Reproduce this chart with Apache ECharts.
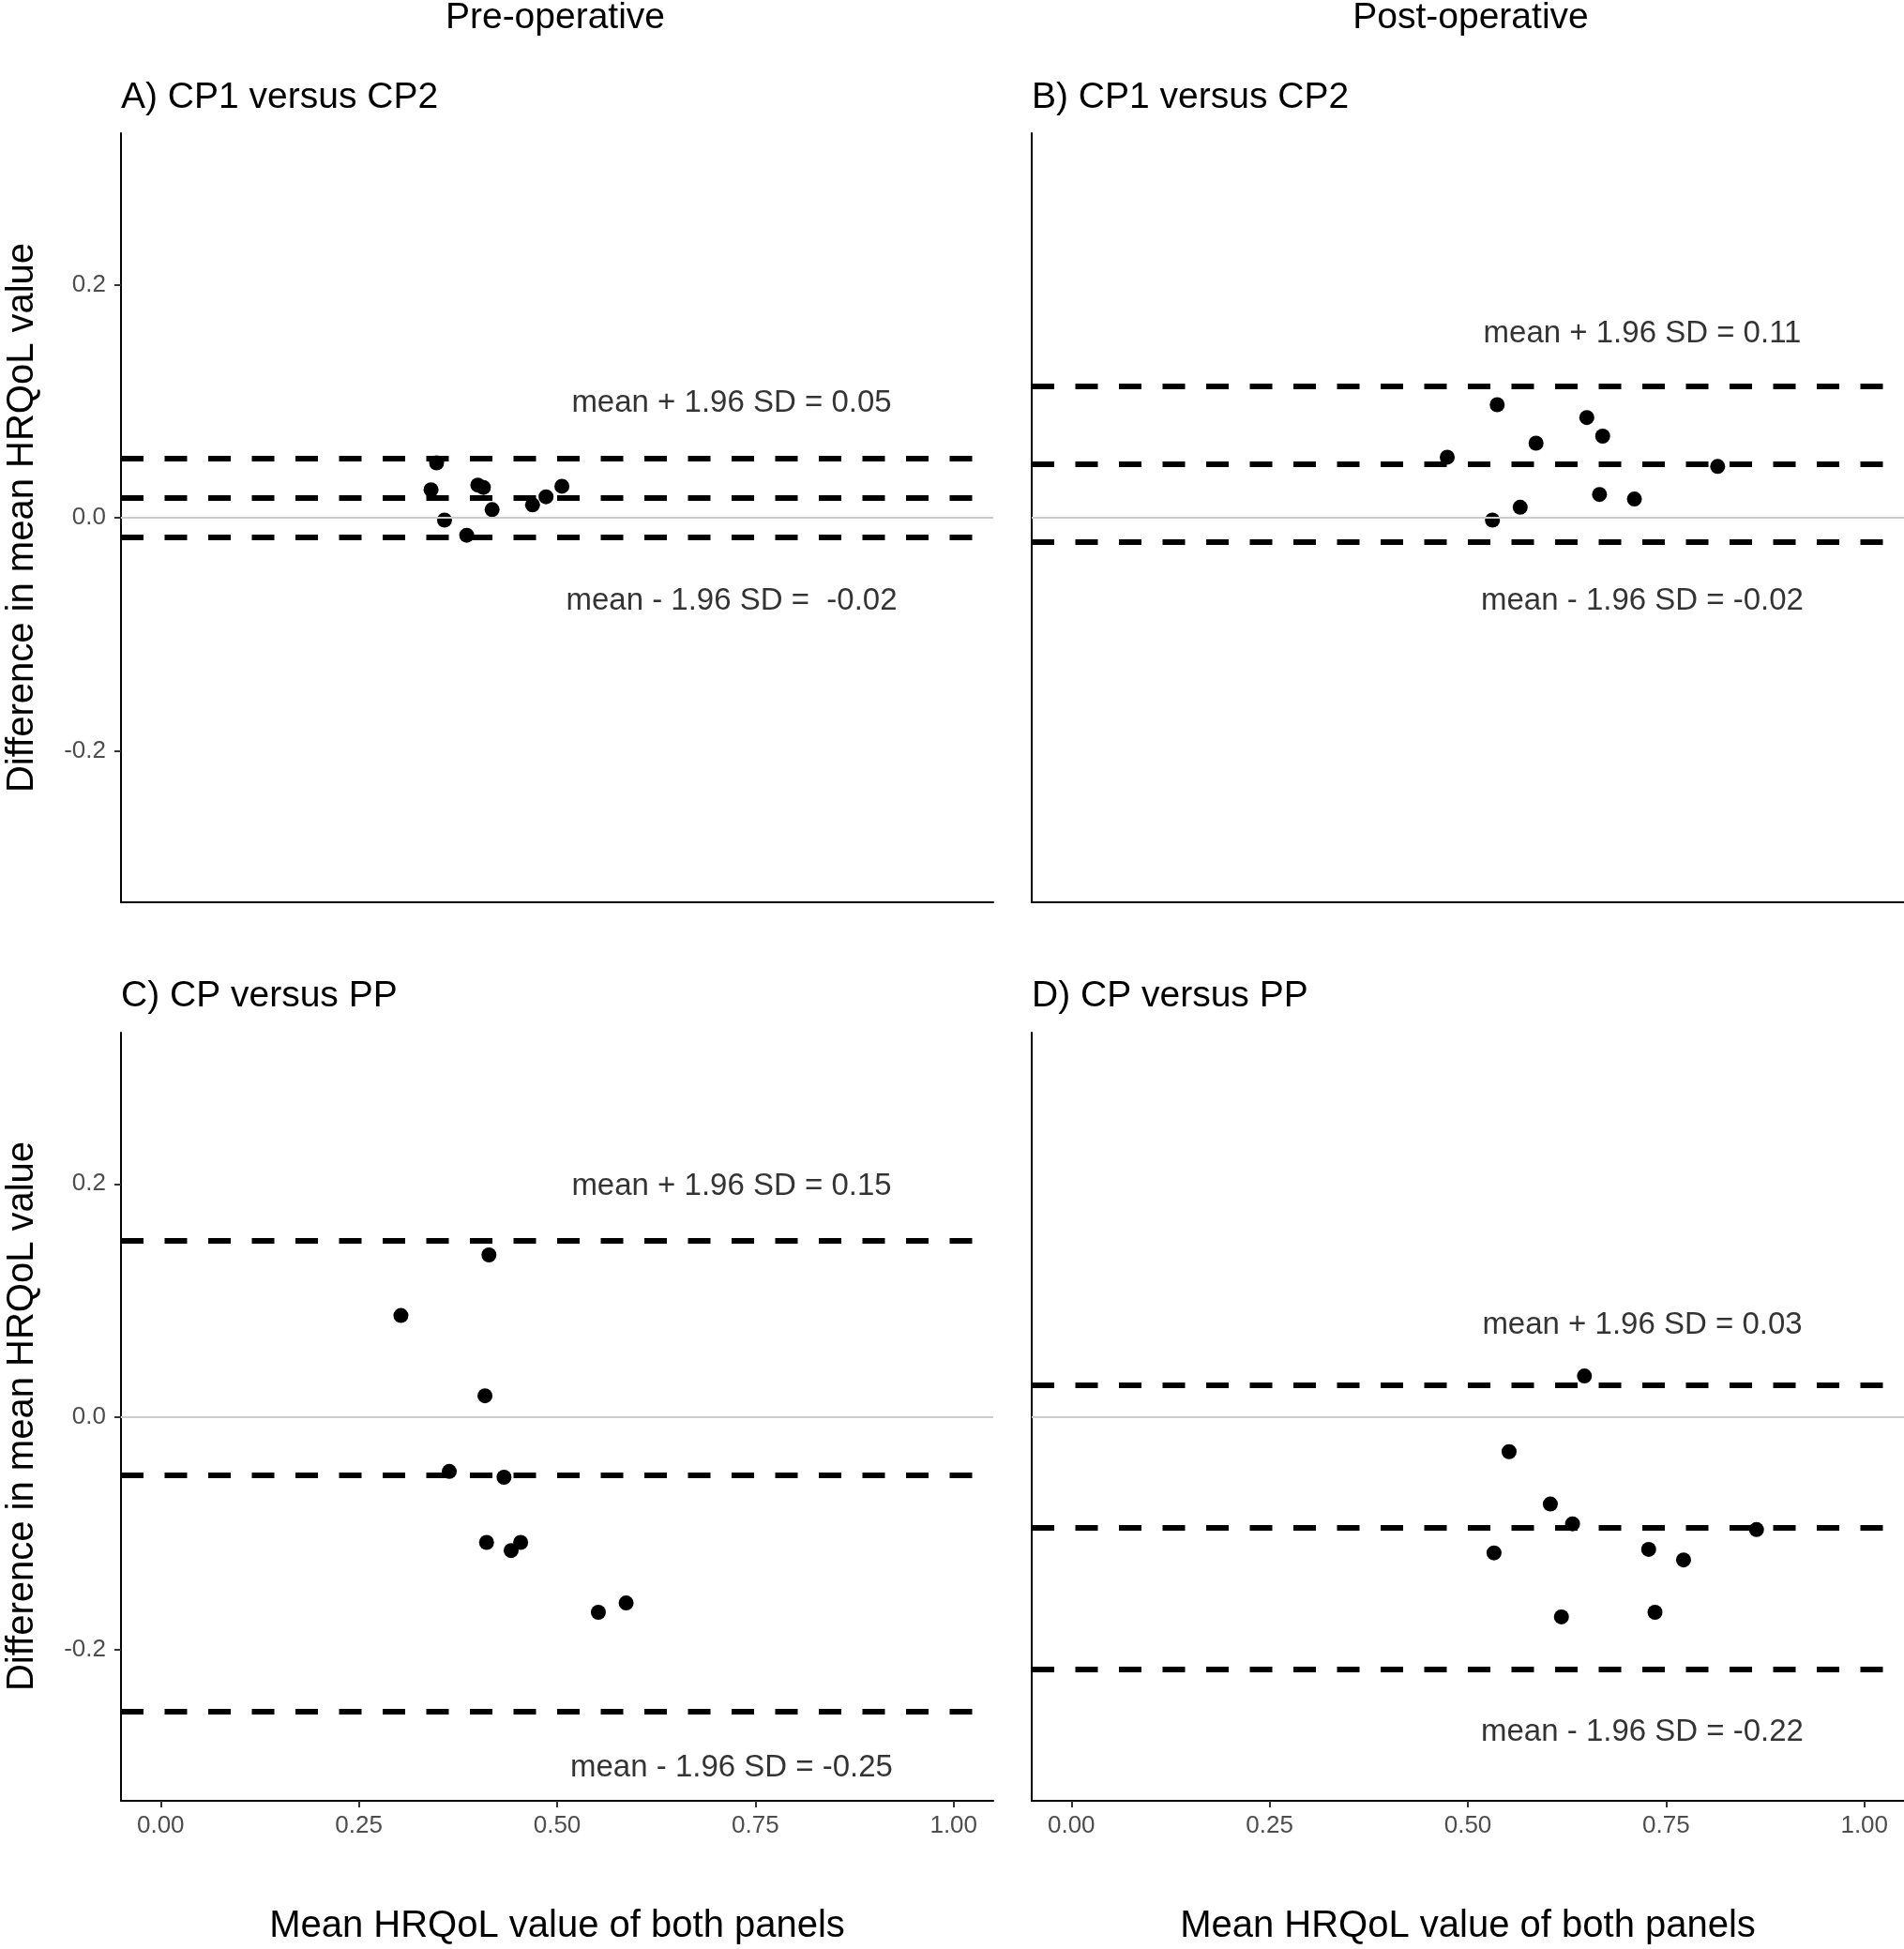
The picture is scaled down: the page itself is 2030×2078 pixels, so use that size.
<!DOCTYPE html>
<html>
<head>
	<meta charset="utf-8">
	<title>Bland-Altman HRQoL</title>
	<style>html, body { margin: 0; padding: 0; background: #fff; }</style>
</head>

<body>
	<div id="chart1" style="width:2030px;height:2078px;"></div>

	<script src="https://cdn.jsdelivr.net/npm/echarts@6/dist/echarts.min.js"></script>
	<script>

	// A) pre-operative, CP1 versus CP2
	var panelAx = [0.348, 0.341, 0.358, 0.386, 0.400, 0.407, 0.418, 0.469, 0.486, 0.506];
	var panelAy = [0.047, 0.024, -0.002, -0.015, 0.028, 0.026, 0.007, 0.011, 0.018, 0.027];
	var panelAlimits = [0.051, 0.0175, -0.017];
	var panelAtext = ['mean + 1.96 SD = 0.05', 'mean - 1.96 SD =  -0.02'];

	// B) post-operative, CP1 versus CP2
	var panelBx = [0.474, 0.537, 0.586, 0.531, 0.566, 0.650, 0.670, 0.666, 0.710, 0.815];
	var panelBy = [0.052, 0.097, 0.064, -0.002, 0.009, 0.086, 0.070, 0.020, 0.016, 0.044];
	var panelBlimits = [0.1125, 0.0463, -0.0206];
	var panelBtext = ['mean + 1.96 SD = 0.11', 'mean - 1.96 SD = -0.02'];

	// C) pre-operative, CP versus PP
	var panelCx = [0.303, 0.414, 0.409, 0.364, 0.433, 0.411, 0.442, 0.454, 0.552, 0.587];
	var panelCy = [0.087, 0.139, 0.018, -0.047, -0.052, -0.108, -0.115, -0.108, -0.168, -0.160];
	var panelClimits = [0.1514, -0.0503, -0.2536];
	var panelCtext = ['mean + 1.96 SD = 0.15', 'mean - 1.96 SD = -0.25'];

	// D) post-operative, CP versus PP
	var panelDx = [0.647, 0.552, 0.604, 0.632, 0.533, 0.618, 0.728, 0.772, 0.736, 0.864];
	var panelDy = [0.035, -0.030, -0.075, -0.092, -0.117, -0.172, -0.114, -0.123, -0.168, -0.097];
	var panelDlimits = [0.0276, -0.095, -0.2166];
	var panelDtext = ['mean + 1.96 SD = 0.03', 'mean - 1.96 SD = -0.22'];

	// where the limit annotations sit (data units)
	var labelX = 0.72;
	var labelY = [[0.098, -0.0715], [0.158, -0.0715], [0.198, -0.302], [0.079, -0.271]];

	var xTicks = [0, 0.25, 0.5, 0.75, 1];
	var yTicks = [-0.2, 0, 0.2];

	var FONT = '"Liberation Sans", Arial, sans-serif';

	var grids = [
		{left: 129, top: 142, width: 930, height: 820},
		{left: 1100, top: 142, width: 930, height: 820},
		{left: 129, top: 1101, width: 930, height: 819},
		{left: 1100, top: 1101, width: 930, height: 819}
	];

	var xAxes = [], yAxes = [], series = [];

	function addPanel(i, xs, ys, limits, texts) {
		var bottomRow = i >= 2, leftCol = i % 2 == 0;
		xAxes.push({
			type: 'value', gridIndex: i, min: -0.05, max: 1.05,
			splitLine: {show: false},
			axisLine: {onZero: false, lineStyle: {color: '#000', width: 2}},
			axisTick: {show: bottomRow, length: 7, customValues: xTicks, lineStyle: {color: '#333', width: 2}},
			axisLabel: {show: bottomRow, customValues: xTicks, margin: 14, color: '#4d4d4d', fontSize: 26, fontFamily: FONT,
				formatter: function(v) { return v.toFixed(2); }}
		});
		yAxes.push({
			type: 'value', gridIndex: i, min: -0.33, max: 0.33,
			splitLine: {show: false},
			axisLine: {onZero: false, lineStyle: {color: '#000', width: 2}},
			axisTick: {show: leftCol, length: 7, customValues: yTicks, lineStyle: {color: '#333', width: 2}},
			axisLabel: {show: leftCol, customValues: yTicks, margin: 16, color: '#4d4d4d', fontSize: 26, fontFamily: FONT,
				formatter: function(v) { return v.toFixed(1); }}
		});

		// zero reference line
		series.push({
			type: 'scatter', xAxisIndex: i, yAxisIndex: i, data: [], z: 1,
			markLine: {silent: true, symbol: ['none', 'none'], label: {show: false}, precision: 4,
				lineStyle: {type: 'solid', color: '#cccccc', width: 2},
				data: [{yAxis: 0}]}
		});
		// mean and limits of agreement
		series.push({
			type: 'scatter', xAxisIndex: i, yAxisIndex: i, data: [], z: 2,
			markLine: {silent: true, symbol: ['none', 'none'], label: {show: false}, precision: 4,
				lineStyle: {type: [24, 22.5], color: '#000', width: 6},
				data: limits.map(function(v) { return {yAxis: v}; })}
		});
		// points
		var pts = [];
		for (var k = 0; k < xs.length; k++) pts.push([xs[k], ys[k]]);
		series.push({
			type: 'scatter', xAxisIndex: i, yAxisIndex: i, z: 3,
			symbolSize: 16, itemStyle: {color: '#000', opacity: 1},
			data: pts
		});
		// annotations
		series.push({
			type: 'scatter', xAxisIndex: i, yAxisIndex: i, z: 4, symbolSize: 0, silent: true,
			label: {show: true, position: 'inside', formatter: '{b}', color: '#000', fontSize: 33, fontFamily: FONT},
			data: [
				{name: texts[0], value: [labelX, labelY[i][0]]},
				{name: texts[1], value: [labelX, labelY[i][1]]}
			]
		});
	}

	addPanel(0, panelAx, panelAy, panelAlimits, panelAtext);
	addPanel(1, panelBx, panelBy, panelBlimits, panelBtext);
	addPanel(2, panelCx, panelCy, panelClimits, panelCtext);
	addPanel(3, panelDx, panelDy, panelDlimits, panelDtext);

	function txt(s, x, y, size, rot, align) {
		return {
			type: 'text', x: x, y: y, rotation: rot || 0, silent: true,
			style: {text: s, fill: '#000', font: size + 'px ' + FONT,
				textAlign: align || 'center', textVerticalAlign: 'middle',
				align: align || 'center', verticalAlign: 'middle'}
		};
	}

	var graphics = [
		txt('Pre-operative', 592, 19, 39),
		txt('Post-operative', 1568, 19, 39),
		txt('A) CP1 versus CP2', 129, 104, 39, 0, 'left'),
		txt('B) CP1 versus CP2', 1100, 104, 39, 0, 'left'),
		txt('C) CP versus PP', 129, 1062, 39, 0, 'left'),
		txt('D) CP versus PP', 1100, 1062, 39, 0, 'left'),
		txt('Difference in mean HRQoL value', 24, 552, 40, Math.PI / 2),
		txt('Difference in mean HRQoL value', 24, 1510, 40, Math.PI / 2),
		txt('Mean HRQoL value of both panels', 594, 2054, 40),
		txt('Mean HRQoL value of both panels', 1565, 2054, 40)
	];

	var myChart = echarts.init(document.getElementById('chart1'));
	myChart.setOption({
		animation: false,
		backgroundColor: '#fff',
		grid: grids,
		xAxis: xAxes,
		yAxis: yAxes,
		series: series,
		graphic: graphics
	});

	</script>
</body>

</html>
